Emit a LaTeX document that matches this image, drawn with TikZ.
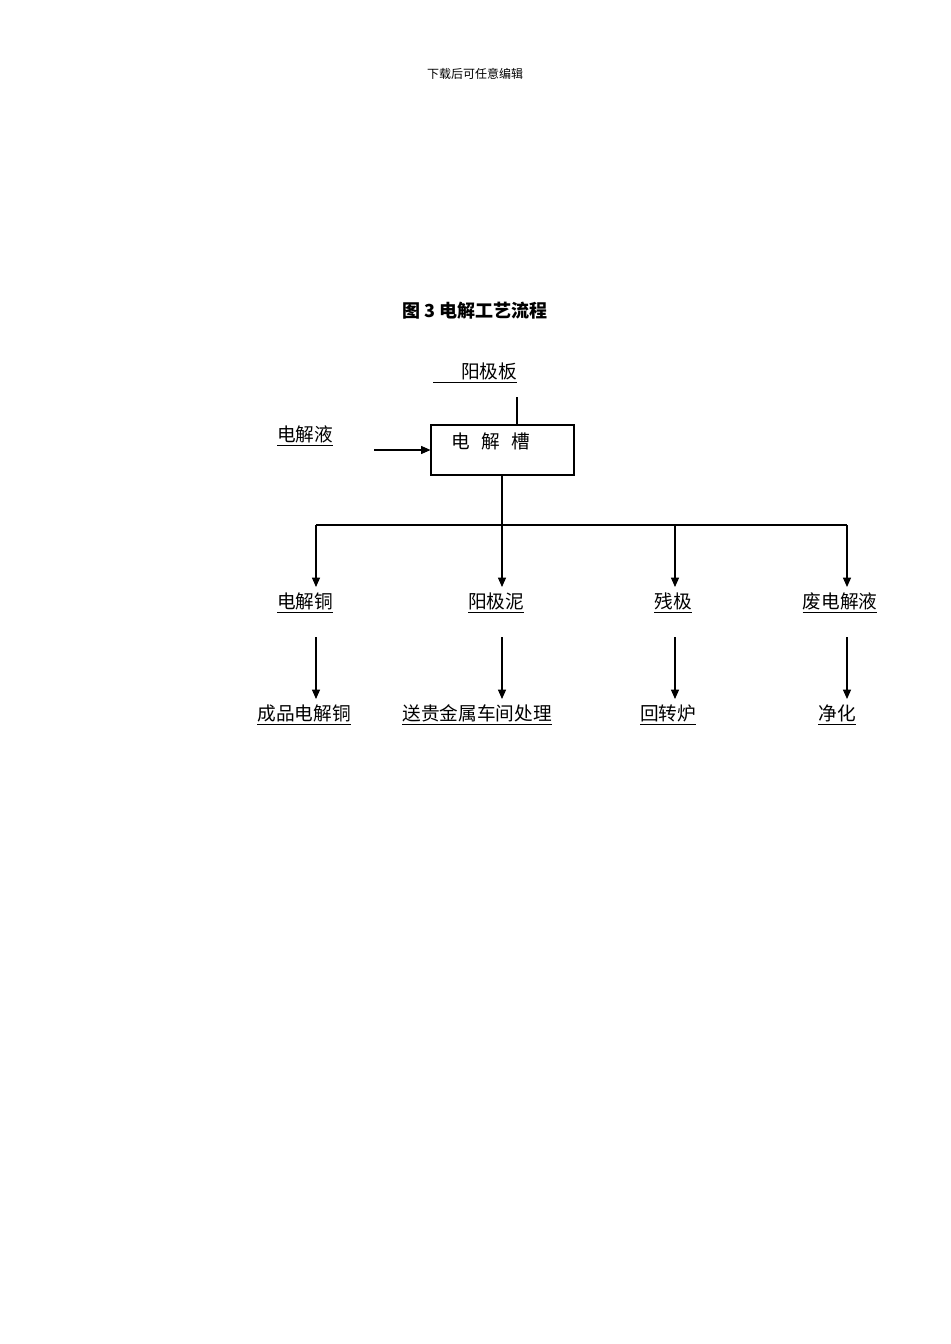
\documentclass[tikz,border=0pt]{standalone}
\usepackage{fontspec}
\newfontfamily\cjk{Noto Sans CJK SC}
\usetikzlibrary{arrows.meta}
\begin{document}
\begin{tikzpicture}[x=0.75pt,y=-0.75pt,
  lbl/.style={font=\cjk\fontsize{14}{16}\selectfont,inner sep=1pt},
  arr/.style={-{Triangle[length=7pt,width=6pt]},line width=0.8pt},
  ln/.style={line width=0.8pt}]
\useasboundingbox (0,0) rectangle (950,1344);
\node[font=\cjk\fontsize{9}{10}\selectfont] (hdr) at (475,74) {下载后可任意编辑};
\node[font=\cjk\bfseries\fontsize{13.5}{16}\selectfont] (title) at (475,311) {图 3 电解工艺流程};
\node[lbl] (yjb) at (475,373) {\underline{\hspace{1.5em}阳极板}};
\node[draw,line width=0.8pt,minimum width=143*0.75pt,minimum height=50*0.75pt] (cell) at (502.5,450) {};
\node[lbl] (celltxt) at (491,441) {电\hspace{0.6em}解\hspace{0.6em}槽};
\coordinate (ytop) at (517,397);
\draw[ln] (ytop) -- (ytop |- cell.north);
\node[lbl] (djy) at (305,436) {\underline{电解液}};
\coordinate (in) at (374,450);
\draw[arr] (in) -- (cell.west);
\coordinate (bus) at (502,525);
\coordinate (b1) at (316,525);
\coordinate (b3) at (675,525);
\coordinate (b4) at (847,525);
\draw[ln] (cell.south -| bus) -- (bus);
\draw[ln] (b1) -- (b4);
\node[lbl] (m1) at (305,603) {\underline{电解铜}};
\node[lbl] (m2) at (496,603) {\underline{阳极泥}};
\node[lbl] (m3) at (673,603) {\underline{残极}};
\node[lbl] (m4) at (840,603) {\underline{废电解液}};
\node[lbl] (e1) at (304,715) {\underline{成品电解铜}};
\node[lbl] (e2) at (477,715) {\underline{送贵金属车间处理}};
\node[lbl] (e3) at (668,715) {\underline{回转炉}};
\node[lbl] (e4) at (837,715) {\underline{净化}};
\foreach \x/\b/\m/\e in {316/b1/m1/e1,502/bus/m2/e2,675/b3/m3/e3,847/b4/m4/e4}{
  \draw[arr] (\b) -- (\x,587);
  \draw[arr] (\x,637) -- (\x,699);
}
\end{tikzpicture}
\end{document}
